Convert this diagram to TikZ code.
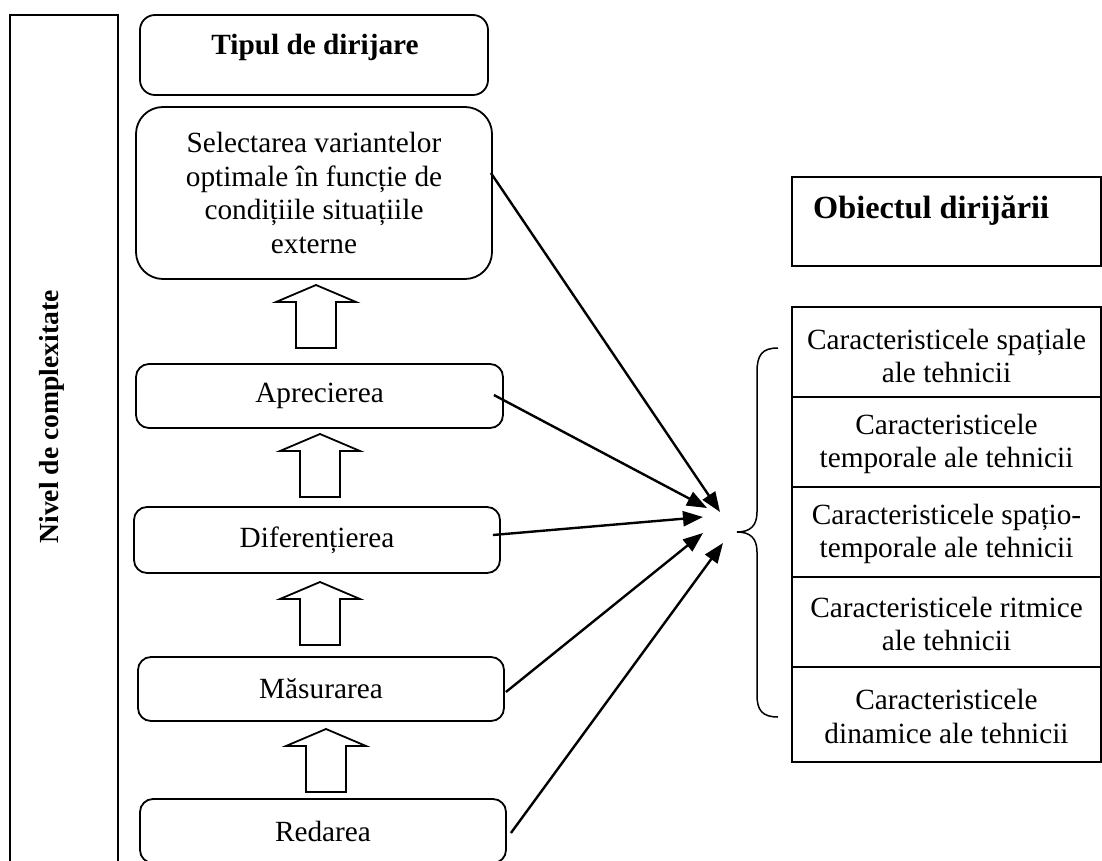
\documentclass[tikz,border=0pt]{standalone}
\usepackage{fontspec}
\setmainfont{Liberation Serif}
\usetikzlibrary{arrows.meta}
\tikzset{
  txt/.style={font=\fontsize{29.3}{33.7}\selectfont, inner sep=0pt, align=center},
  rbox/.style={txt, draw, line width=1.8pt, rounded corners=13pt, minimum height=64pt},
  sbox/.style={txt, draw, line width=1.8pt, minimum width=309pt},
  conn/.style={line width=2.4pt, -{Triangle[length=20pt,width=15pt]}},
  brc/.style={line width=1.5pt},
  hollow/.pic={\draw[line width=1.8pt, line join=miter] (0,0) -- (40,17) -- (20,17) -- (20,63) -- (-20,63) -- (-20,17) -- (-40,17) -- cycle;}
}
\begin{document}
\begin{tikzpicture}[x=1pt,y=-1pt]
\useasboundingbox (0,0) rectangle (1102,861);
% left column
\node[draw, line width=1.8pt, minimum width=108pt, minimum height=860pt, inner sep=0pt] (lvl) at (64,445) {};
\node[txt, font=\fontsize{27.6}{32}\selectfont\bfseries, rotate=90] (lvltxt) at (52,417) {Nivel de complexitate};
% header
\node[rbox, minimum width=348pt, minimum height=80pt, rounded corners=15pt] (tip) at (314,55) {};
\node[txt, font=\fontsize{29.3}{33.7}\selectfont\bfseries] (tiptxt) at (315,47) {Tipul de dirijare};
% levels
\node[rbox, minimum width=356pt, minimum height=172pt, rounded corners=27pt] (sel) at (314,193)
  {Selectarea variantelor\\optimale în funcție de\\condițiile situațiile\\externe};
\node[rbox, minimum width=367pt] (apr) at (319.5,396) {Aprecierea};
\node[rbox, minimum width=366pt, minimum height=66pt] (dif) at (317,540) {Diferențierea};
\node[rbox, minimum width=366pt] (mas) at (321,689) {Măsurarea};
\node[rbox, minimum width=366pt] (red) at (323,831) {Redarea};
% hollow arrows
\pic at (316,285) {hollow};
\pic at (320,434) {hollow};
\pic at (320,582) {hollow};
\pic at (326,729) {hollow};
% right side
\node[sbox, minimum height=89pt] (obj) at (946.5,221.5) {};
\node[txt, font=\fontsize{32.3}{37}\selectfont\bfseries, anchor=west] (objtxt) at (813,211) {Obiectul dirijării};
\node[sbox, minimum height=90pt, text depth=0pt] (c1) at (946.5,352) {};
\node[sbox, minimum height=90pt] (c2) at (946.5,442) {};
\node[sbox, minimum height=90pt] (c3) at (946.5,532) {};
\node[sbox, minimum height=90pt] (c4) at (946.5,622) {};
\node[sbox, minimum height=95pt] (c5) at (946.5,714.5) {};
\node[txt] (t1) at ([yshift=-4pt]c1.center) {Caracteristicele spațiale\\ale tehnicii};
\node[txt] (t2) at ([yshift=-2pt]c2.center) {Caracteristicele\\temporale ale tehnicii};
\node[txt] (t3) at ([yshift=-2pt]c3.center) {Caracteristicele spațio-\\temporale ale tehnicii};
\node[txt] (t4) at ([yshift=-2pt]c4.center) {Caracteristicele ritmice\\ale tehnicii};
\node[txt] (t5) at ([yshift=-2pt]c5.center) {Caracteristicele\\dinamice ale tehnicii};
% brace
\coordinate (bt) at (737,532);
\draw[brc] (778,348) .. controls (762,348) and (757,355) .. (757,372) -- (757,512)
  .. controls (757,526) and (750,532) .. (bt)
  .. controls (750,532) and (757,538) .. (757,552) -- (757,695)
  .. controls (757,710) and (762,717) .. (778,717);
% connectors
\draw[conn] ([shift={(-2,-20)}]sel.east) -- ([shift={(-17,-20)}]bt);
\draw[conn] ([shift={(-10,-1)}]apr.east) -- ([shift={(-30,-24)}]bt);
\draw[conn] ([shift={(-8,-5)}]dif.east) -- ([shift={(-34,-15)}]bt);
\draw[conn] ([shift={(1,3)}]mas.east) -- ([shift={(-34,1)}]bt);
\draw[conn] ([shift={(4,2)}]red.east) -- ([shift={(-14,11)}]bt);
\end{tikzpicture}
\end{document}
